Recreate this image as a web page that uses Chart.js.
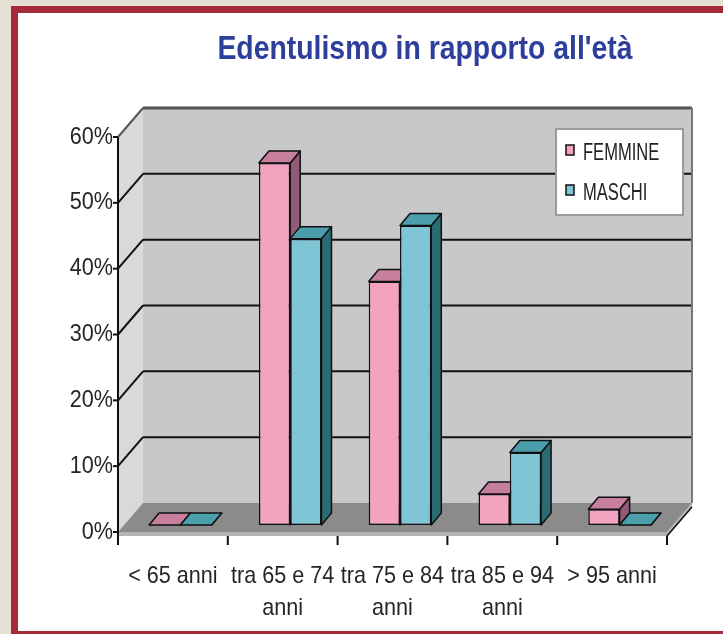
<!doctype html>
<html lang="it">
<head>
  <meta charset="UTF-8">
  <title>Edentulismo in rapporto all'età</title>
  <script src="https://cdn.jsdelivr.net/npm/chart.js"></script>
  <style>
    html, body { margin: 0; padding: 0; }
    body { width: 723px; height: 634px; background: #e6dfd4; position: relative; overflow: hidden; }
    #cornice {
      position: absolute; left: 11px; top: 6px; right: 0; bottom: 0; background: #fff;
      border-left: 7px solid #a52b3b; border-top: 7px solid #a52b3b; border-bottom: 3px solid #a52b3b;
    }
    #grafico { position: absolute; left: 0; top: 0; }
  </style>
</head>
<body>
<div id="cornice"></div>
<canvas id="grafico" width="723" height="634"></canvas>
<script>
  const titolo = "Edentulismo in rapporto all'età";
  const categorie = [['< 65 anni'], ['tra 65 e 74', 'anni'], ['tra 75 e 84', 'anni'], ['tra 85 e 94', 'anni'], ['> 95 anni']];
  const femmine = [0, 55, 37, 4.7, 2.4];
  const maschi = [0, 43.5, 45.5, 11, 0];
  const tickPercentuali = [0, 10, 20, 30, 40, 50, 60];

  const FONT = '"Liberation Sans", Arial, sans-serif';

  // spostamenti per la finta prospettiva (dal piano delle barre)
  const FRONTE = { x: -7.5, y: 7 };
  const FONDO = { x: 17.5, y: -22 };
  const PROF_BARRA = { x: 10, y: -12 };

  function poligono(ctx, punti, riemp, tratto, spess) {
    ctx.beginPath();
    ctx.moveTo(punti[0][0], punti[0][1]);
    for (let i = 1; i < punti.length; i++) ctx.lineTo(punti[i][0], punti[i][1]);
    ctx.closePath();
    if (riemp) { ctx.fillStyle = riemp; ctx.fill(); }
    if (tratto) { ctx.strokeStyle = tratto; ctx.lineWidth = spess || 1; ctx.lineJoin = 'round'; ctx.stroke(); }
  }

  function linea(ctx, x1, y1, x2, y2, colore, spess) {
    ctx.beginPath();
    ctx.moveTo(x1, y1);
    ctx.lineTo(x2, y2);
    ctx.strokeStyle = colore;
    ctx.lineWidth = spess;
    ctx.stroke();
  }

  // testo compresso in orizzontale, come nell'originale
  function testoStretto(ctx, testo, x, y, k, allinea) {
    ctx.save();
    ctx.translate(x, y);
    ctx.scale(k, 1);
    ctx.textAlign = allinea;
    ctx.textBaseline = 'middle';
    ctx.fillText(testo, 0, 0);
    ctx.restore();
  }

  const scena3d = {
    id: 'scena3d',
    beforeDatasetsDraw(chart) {
      const ctx = chart.ctx, ca = chart.chartArea, ys = chart.scales.y;
      const L = ca.left, R = ca.right, T = ca.top, B = ca.bottom;
      ctx.save();

      // parete di fondo e parete sinistra
      poligono(ctx, [[L + FONDO.x, T + FONDO.y], [R + FONDO.x, T + FONDO.y], [R + FONDO.x, B + FONDO.y], [L + FONDO.x, B + FONDO.y]], '#c8c7c9');
      poligono(ctx, [[L + FRONTE.x, T + FRONTE.y], [L + FONDO.x, T + FONDO.y], [L + FONDO.x, B + FONDO.y], [L + FRONTE.x, B + FRONTE.y]], '#d9d9d9');

      // griglia
      ys.ticks.forEach(t => {
        if (t.value === 0) return;
        const py = ys.getPixelForValue(t.value);
        const cima = t.value === ys.max;
        const col = cima ? '#555' : '#111';
        linea(ctx, L + FRONTE.x, py + FRONTE.y, L + FONDO.x, py + FONDO.y, col, 2);
        linea(ctx, L + FONDO.x, py + FONDO.y, R + FONDO.x, py + FONDO.y, col, cima ? 3 : 2);
      });
      linea(ctx, R + FONDO.x, T + FONDO.y, R + FONDO.x, B + FONDO.y, '#777', 2);

      // pavimento
      const spessore = 4;
      poligono(ctx, [[L + FRONTE.x, B + FRONTE.y], [R + FRONTE.x, B + FRONTE.y], [R + FRONTE.x, B + FRONTE.y + spessore], [L + FRONTE.x, B + FRONTE.y + spessore]], '#b3b3b3');
      poligono(ctx, [[R + FRONTE.x, B + FRONTE.y], [R + FONDO.x, B + FONDO.y], [R + FONDO.x, B + FONDO.y + spessore], [R + FRONTE.x, B + FRONTE.y + spessore]], '#b3b3b3');
      poligono(ctx, [[L + FRONTE.x, B + FRONTE.y], [R + FRONTE.x, B + FRONTE.y], [R + FONDO.x, B + FONDO.y], [L + FONDO.x, B + FONDO.y]], '#8b8b8b');
      linea(ctx, R + FRONTE.x, B + FRONTE.y + spessore, R + FONDO.x, B + FONDO.y + spessore, '#111', 1.5);

      // asse verticale frontale con tacche
      linea(ctx, L + FRONTE.x, T + FRONTE.y, L + FRONTE.x, B + FRONTE.y + spessore + 9, '#111', 2);
      ys.ticks.forEach(t => {
        const py = ys.getPixelForValue(t.value) + FRONTE.y;
        linea(ctx, L + FRONTE.x - 5, py, L + FRONTE.x, py, '#111', 2);
      });

      // tacche categorie
      const n = chart.data.labels.length;
      for (let i = 1; i <= n; i++) {
        const px = L + FRONTE.x + (R - L) * i / n;
        linea(ctx, px, B + FRONTE.y + spessore, px, B + FRONTE.y + spessore + 9, '#111', 2);
      }

      // facce laterali e superiori delle barre
      chart.data.datasets.forEach((ds, di) => {
        chart.getDatasetMeta(di).data.forEach(bar => {
          const p = bar.getProps(['x', 'y', 'base', 'width'], true);
          const sx = p.x - p.width / 2, dx = p.x + p.width / 2;
          const alto = Math.min(p.y, p.base), basso = Math.max(p.y, p.base);
          const d = PROF_BARRA;
          poligono(ctx, [[dx, alto], [dx + d.x, alto + d.y], [dx + d.x, basso + d.y], [dx, basso]], ds.coloreLato, '#111', 1.5);
          poligono(ctx, [[sx, alto], [sx + d.x, alto + d.y], [dx + d.x, alto + d.y], [dx, alto]], ds.coloreCima, '#111', 1.5);
        });
      });
      ctx.restore();
    },
    afterDraw(chart) {
      const ctx = chart.ctx, ca = chart.chartArea, xs = chart.scales.x, ys = chart.scales.y;
      ctx.save();

      // titolo
      ctx.font = 'bold 33px ' + FONT;
      ctx.fillStyle = '#2e3e9b';
      testoStretto(ctx, titolo, 425, 50, 0.86, 'center');

      // etichette degli assi, sul piano frontale
      ctx.font = '24px ' + FONT;
      ctx.fillStyle = '#262626';
      ys.ticks.forEach((t, i) => {
        testoStretto(ctx, t.label, ca.left + FRONTE.x - 5, ys.getPixelForTick(i) + FRONTE.y, 0.9, 'right');
      });
      xs.ticks.forEach((t, i) => {
        const righe = [].concat(t.label);
        righe.forEach((r, j) => {
          testoStretto(ctx, r, xs.getPixelForTick(i) + FRONTE.x, ca.bottom + 51 + j * 32, 0.9, 'center');
        });
      });

      // legenda
      const bx = ca.right + FONDO.x - 136, by = ca.top + FONDO.y + 21, bw = 127, bh = 86;
      ctx.fillStyle = '#fff';
      ctx.fillRect(bx, by, bw, bh);
      ctx.strokeStyle = '#9a9a9a';
      ctx.lineWidth = 2;
      ctx.strokeRect(bx, by, bw, bh);
      ctx.font = '23px ' + FONT;
      chart.data.datasets.forEach((ds, i) => {
        const ry = by + 25 + i * 40;
        ctx.fillStyle = ds.backgroundColor;
        ctx.fillRect(bx + 10, ry - 9, 8, 10);
        ctx.strokeStyle = '#111';
        ctx.lineWidth = 1.5;
        ctx.strokeRect(bx + 10, ry - 9, 8, 10);
        ctx.fillStyle = '#222';
        testoStretto(ctx, ds.label, bx + 27, ry, 0.72, 'left');
      });
      ctx.restore();
    }
  };

  new Chart(document.getElementById('grafico'), {
    type: 'bar',
    data: {
      labels: categorie,
      datasets: [
        {
          label: 'FEMMINE', data: femmine,
          backgroundColor: '#f3a2bf', coloreCima: '#c77f9d', coloreLato: '#925a76',
          borderColor: '#111', borderWidth: 1.5, borderSkipped: false,
          categoryPercentage: 0.57, barPercentage: 1
        },
        {
          label: 'MASCHI', data: maschi,
          backgroundColor: '#7fc5d5', coloreCima: '#4b9eab', coloreLato: '#2b6b74',
          borderColor: '#111', borderWidth: 1.5, borderSkipped: false,
          categoryPercentage: 0.57, barPercentage: 1
        }
      ]
    },
    options: {
      responsive: false,
      animation: false,
      layout: { padding: { top: 130, right: 48.5, left: 0, bottom: 0 } },
      plugins: {
        legend: { display: false },
        title: { display: false },
        tooltip: { enabled: false }
      },
      scales: {
        x: {
          grid: { display: false, drawTicks: false },
          border: { display: false },
          ticks: { display: false, autoSkip: false, maxRotation: 0 },
          afterFit: s => { s.height = 109; }
        },
        y: {
          min: 0, max: 60,
          grid: { display: false, drawTicks: false },
          border: { display: false },
          ticks: { display: false, callback: v => v + '%' },
          afterBuildTicks: s => { s.ticks = tickPercentuali.map(v => ({ value: v })); },
          afterFit: s => { s.width = 125.5; }
        }
      }
    },
    plugins: [scena3d]
  });
</script>
</body>
</html>
